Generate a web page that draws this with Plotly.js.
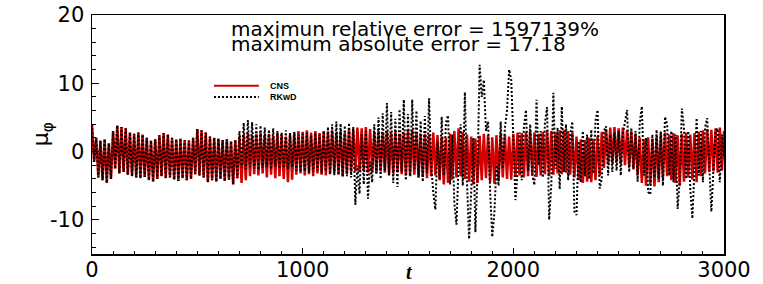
<!DOCTYPE html>
<html><head><meta charset="utf-8">
<script src="https://cdn.plot.ly/plotly-3.0.1.min.js"></script>
<style>html,body{margin:0;padding:0;background:#fff}#chart{width:763px;height:284px}</style>
</head><body><div id="chart"></div>
<script>
// sampling step of the time axis t
const T_STEP = 10;

// t = 0 .. 690 : both solutions coincide
const commonEarly = [
  4.0, -1.5, 2.0, -3.8, 1.6, -4.2, 1.8, -4.6, 1.2, -4.0,
  3.0, -2.5, 3.8, -3.2, 3.6, -3.0, 3.4, -3.4, 2.8, -3.6,
  2.6, -3.8, 2.8, -3.9, 2.5, -3.7, 2.0, -4.2, 1.6, -4.4,
  1.8, -4.0, 2.4, -3.6, 2.7, -3.9, 2.5, -3.8, 2.0, -4.1,
  1.8, -4.3, 1.9, -3.9, 1.7, -4.2, 1.6, -4.0, 2.0, -3.3,
  3.3, -3.5, 3.1, -3.8, 2.8, -4.5, 2.2, -4.2, 2.0, -4.4,
  1.9, -4.0, 1.7, -4.3, 1.8, -4.1, 1.5, -4.8, 1.7, -3.9
];

// t = 700 .. 3000 : CNS
const cnsLate = [
  2.2, -4.6, 2.5, -4.2, 2.7, -3.6, 2.4, -3.3, 2.6, -3.5,
  2.8, -3.2, 2.5, -3.8, 2.6, -3.4, 2.3, -3.9, 2.7, -3.6,
  2.4, -4.0, 2.2, -4.5, 2.5, -4.1, 2.8, -3.4, 3.0, -3.2,
  2.9, -3.5, 3.1, -3.3, 2.8, -3.6, 3.0, -3.2, 2.7, -3.4,
  3.0, -3.5, 2.9, -3.3, 3.1, -3.1, 2.8, -3.4, 3.0, -3.6,
  2.7, -3.3, 3.2, -3.0, 3.3, -2.9, 3.5, -3.0, 3.4, -2.8,
  3.6, -3.1, 3.3, -3.0, 2.9, -3.2, 3.0, -2.9, 2.8, -3.1,
  3.0, -3.4, 2.7, -3.2, 2.9, -3.0, 2.6, -3.3, 2.8, -3.5,
  3.1, -3.6, 3.2, -3.4, 2.7, -3.8, 2.4, -3.7, 2.6, -3.9,
  2.5, -3.6, 2.8, -3.5, 2.4, -4.2, 2.2, -4.8, 2.0, -4.6,
  2.6, -4.1, 3.0, -3.8, 3.4, -3.6, 2.9, -4.0, 2.5, -4.4,
  2.2, -4.8, 1.9, -4.6, 2.3, -4.2, 2.6, -3.9, 2.4, -4.5,
  2.1, -4.7, 2.4, -4.3, 2.7, -3.8, 2.5, -4.0, 2.2, -4.1,
  2.6, -3.7, 2.8, -3.5, 2.7, -3.8, 2.9, -3.6, 3.0, -3.4,
  2.8, -3.7, 2.6, -3.5, 2.9, -3.3, 3.1, -3.6, 3.0, -3.4,
  2.8, -3.2, 3.1, -3.3, 3.2, -3.1, 3.0, -3.4, 2.7, -3.8,
  2.2, -4.2, 1.8, -4.6, 1.7, -4.4, 2.0, -4.5, 1.8, -4.2,
  2.3, -3.5, 2.9, -2.4, 3.3, -1.9, 3.5, -1.7, 3.6, -1.6,
  3.4, -1.8, 3.5, -2.0, 3.2, -2.3, 3.0, -2.6, 2.6, -3.4,
  2.0, -4.6, 1.8, -5.0, 2.1, -4.8, 1.9, -5.1, 2.2, -4.5,
  2.6, -3.9, 2.8, -3.6, 2.5, -4.2, 2.7, -4.6, 2.4, -5.0,
  2.6, -4.4, 2.8, -3.8, 2.5, -4.1, 2.7, -4.5, 2.9, -3.6,
  3.1, -3.2, 3.3, -3.0, 3.2, -2.9, 3.4, -3.1, 3.5, -2.8,
  3.0
];

// t = 700 .. 3000 : RKwD
const rkwdLate = [
  3.0, -2.4, 4.2, -2.6, 4.6, -2.3, 4.3, -2.5, 4.0, -2.7,
  3.8, -2.4, 3.5, -2.3, 3.2, -2.6, 3.4, -2.2, 3.0, -2.5,
  2.8, -2.4, 3.1, -2.6, 2.7, -2.3, 2.9, -2.8, 2.5, -3.0,
  2.6, -2.9, 2.8, -3.1, 2.4, -3.0, 2.7, -2.8, 2.5, -3.2,
  3.0, -2.9, 3.6, -3.3, 4.0, -3.5, 4.4, -3.4, 4.1, -3.7,
  3.8, -3.6, 4.2, -3.8, 3.6, -7.8, -2.0, -6.2, 2.5, -4.8,
  3.0, -6.9, -1.5, -4.5, 4.0, -3.2, 5.0, -4.0, 5.6, -2.8,
  7.1, -3.5, 5.8, -4.6, 4.8, -5.2, 6.2, -3.0, 7.6, -4.2,
  5.5, -3.6, 7.6, -2.5, 6.0, -3.8, 4.5, -4.4, 5.2, -3.1,
  7.8, -2.0, -6.0, -8.5, 1.5, -4.0, 5.1, -3.5, 4.2, 5.3,
  -4.8, 2.5, -7.5, -10.7, -2.0, 4.0, -5.0, 8.7, -4.5, -12.8,
  -6.0, 2.0, -11.8, -3.0, 12.7, 8.0, 10.5, 3.0, 4.4, -6.0,
  -12.5, -9.0, -2.0, -5.0, 4.4, -2.5, 3.5, 6.0, 12.0, 10.5,
  2.0, -7.1, -3.0, 2.8, -4.2, 3.5, 6.1, -2.8, 4.0, -3.5,
  -4.9, 7.6, -2.0, 3.0, -3.8, 4.2, 6.5, -10.0, -5.0, 8.6,
  -2.5, 3.5, -5.5, 6.6, -3.0, 4.0, -4.2, 2.5, 4.4, -8.8,
  -9.3, 1.5, -4.5, 3.0, -3.6, 2.5, -4.0, 3.2, -3.2, 4.5,
  6.1, -5.4, -4.0, 3.0, 3.7, -3.5, 2.5, -3.0, 2.8, -2.8,
  3.0, -3.5, 2.6, 4.5, 6.1, -3.0, 3.5, -2.5, 3.0, -4.4,
  4.2, 6.6, -3.5, 2.0, -5.9, -6.3, 2.5, -3.8, 3.2, -4.0,
  3.0, -5.0, 5.1, 4.0, -3.5, 3.0, -4.5, 2.5, -8.4, -4.0,
  6.3, 3.5, -4.0, 3.0, -5.5, -9.8, -3.0, 4.9, -3.5, 3.0,
  -4.5, 3.5, 4.9, -3.0, -8.8, -2.5, 3.0, 3.4, -4.5, 2.5,
  -1.0
];

const seriesNames = ['CNS', 'RKwD'];
const cnsValues = commonEarly.concat(cnsLate);
const rkwdValues = commonEarly.concat(rkwdLate);
const tCns = cnsValues.map((_, i) => i * T_STEP);
const tRkwd = rkwdValues.map((_, i) => i * T_STEP);

const xLabelVals = [0, 1000, 2000, 3000];
const xLabelText = ['0', '1000', '2000', '3000'];
const xHalfTickVals = [500, 1500, 2500];
const yTickVals = [-10, 0, 10, 20];
const yTickText = ['-10', '0', '10', '20'];
const noteLines = ['maximun relative error = 1597139%', 'maximum absolute error = 17.18'];

const RED = '#d20000';
const SANS = 'DejaVu Sans, Arial, sans-serif';
const tickFont = {family: SANS, size: 21, color: '#000'};

const traces = [
  {x: tCns, y: cnsValues, name: seriesNames[0], type: 'scatter', mode: 'lines',
   line: {color: RED, width: 2.5}, showlegend: false, hoverinfo: 'skip'},
  {x: tRkwd, y: rkwdValues, name: seriesNames[1], type: 'scatter', mode: 'lines',
   line: {color: '#000', width: 2, dash: '2px,2px'}, showlegend: false, hoverinfo: 'skip'}
];

const layout = {
  width: 763, height: 284,
  margin: {l: 92, r: 39, t: 15, b: 30},
  paper_bgcolor: '#fff', plot_bgcolor: '#fff',
  showlegend: false,
  xaxis: {
    range: [0, 3000], showgrid: false, zeroline: false,
    showline: true, linecolor: '#000', linewidth: 1.5, mirror: true,
    tickmode: 'array', tickvals: xLabelVals, ticktext: xLabelText,
    ticks: 'inside', ticklen: 6, tickwidth: 1, tickcolor: '#000',
    minor: {tickmode: 'linear', tick0: 0, dtick: 100, ticks: 'inside', ticklen: 3, tickcolor: '#000'},
    tickfont: tickFont
  },
  xaxis2: {
    overlaying: 'x', anchor: 'y', side: 'bottom', range: [0, 3000],
    showgrid: false, zeroline: false, showline: false, showticklabels: false,
    tickmode: 'array', tickvals: xHalfTickVals,
    ticks: 'inside', ticklen: 6, tickwidth: 1, tickcolor: '#000'
  },
  yaxis: {
    range: [-15, 20], showgrid: false, zeroline: false,
    showline: true, linecolor: '#000', linewidth: 1.5, mirror: true,
    tickmode: 'array', tickvals: yTickVals, ticktext: yTickText,
    ticks: 'inside', ticklen: 7, tickwidth: 1, tickcolor: '#000',
    minor: {tickmode: 'linear', tick0: 0, dtick: 2, ticks: 'inside', ticklen: 4, tickcolor: '#000'},
    tickfont: tickFont
  },
  shapes: [
    {type: 'line', xref: 'paper', yref: 'paper', x0: 0.193, x1: 0.264, y0: 0.704, y1: 0.704,
     line: {color: RED, width: 2}},
    {type: 'line', xref: 'paper', yref: 'paper', x0: 0.193, x1: 0.264, y0: 0.657, y1: 0.657,
     line: {color: '#000', width: 2, dash: '2px,2px'}}
  ],
  annotations: [
    {xref: 'paper', yref: 'paper', x: 0.2184, y: 0.9435, xanchor: 'left', yanchor: 'middle', borderpad: 0,
     text: noteLines[0], showarrow: false, font: {family: SANS, size: 20, color: '#000'}},
    {xref: 'paper', yref: 'paper', x: 0.2184, y: 0.8787, xanchor: 'left', yanchor: 'middle', borderpad: 0,
     text: noteLines[1], showarrow: false, font: {family: SANS, size: 20, color: '#000'}},
    {xref: 'paper', yref: 'paper', x: 0.2785, y: 0.704, xanchor: 'left', yanchor: 'middle',
     text: '<b>' + seriesNames[0] + '</b>', showarrow: false, font: {family: 'Liberation Sans, Arial, sans-serif', size: 9, color: '#000'}},
    {xref: 'paper', yref: 'paper', x: 0.2785, y: 0.657, xanchor: 'left', yanchor: 'middle',
     text: '<b>' + seriesNames[1] + '</b>', showarrow: false, font: {family: 'Liberation Sans, Arial, sans-serif', size: 9, color: '#000'}},
    {xref: 'paper', yref: 'paper', x: 0.502, y: -0.1255, xanchor: 'center', yanchor: 'bottom', borderpad: 0,
     text: '<b><i>t</i></b>', showarrow: false, font: {family: 'Liberation Serif, serif', size: 20, color: '#000'}},
    {xref: 'paper', yref: 'paper', x: -0.078, y: 0.5, xanchor: 'center', yanchor: 'middle', textangle: -90,
     text: 'μ<sub>φ</sub>', showarrow: false, font: {family: SANS, size: 22, color: '#000'}}
  ]
};

Plotly.newPlot('chart', traces, layout, {displayModeBar: false, staticPlot: true}).then(function (gd) {
  // tighten tick-label placement to match the reference (labels sit close to the frame)
  gd.querySelectorAll('g.xtick text').forEach(function (t) {
    t.setAttribute('y', parseFloat(t.getAttribute('y') || '0') - 4);
  });
  gd.querySelectorAll('g.ytick text').forEach(function (t) {
    t.setAttribute('x', parseFloat(t.getAttribute('x') || '0') - 2);
  });
});
</script>
</body></html>
